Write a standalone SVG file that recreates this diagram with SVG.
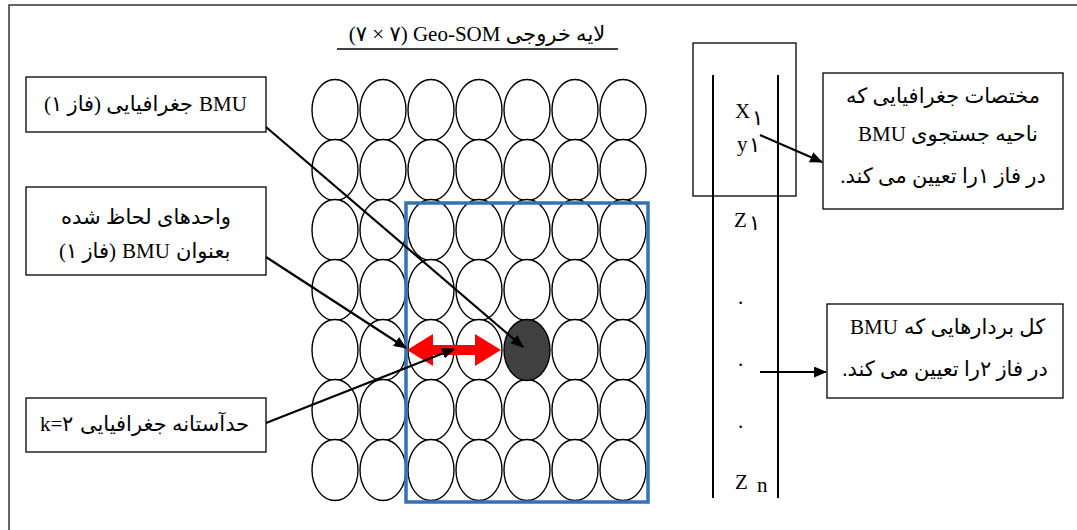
<svg xmlns="http://www.w3.org/2000/svg" width="1077" height="530" viewBox="0 0 1077 530">
<defs>
<style>
.t { font-family: "Liberation Serif", "DejaVu Sans", serif; font-size: 21px; fill: #000; }
.lat { font-family: "Liberation Serif", serif; font-size: 21px; fill: #000; }
.box { fill: #fff; stroke: #000; stroke-width: 1.3; }
.cell { fill: #fff; stroke: #000; stroke-width: 1.4; }
.conn { stroke: #000; stroke-width: 2.2; fill: none; }
.vline { stroke: #000; stroke-width: 2; }
</style>
<marker id="ah" viewBox="0 0 12 10" refX="11" refY="5" markerWidth="13" markerHeight="11" orient="auto" markerUnits="userSpaceOnUse">
<path d="M0,0 L12,5 L0,10 z" fill="#000"/>
</marker>
</defs>
<rect width="1077" height="530" fill="#fff"/>
<path d="M9,530 V5 H1077" fill="none" stroke="#333" stroke-width="1.5"/>

<g id="title">
<text class="t" x="477" y="41" text-anchor="middle" font-size="23">(۷ × ۷) Geo-SOM لایه خروجی</text>
<line x1="337" y1="49" x2="618" y2="49" stroke="#000" stroke-width="1.3"/>
</g>

<g id="grid">
<ellipse class="cell" cx="335" cy="110" rx="23" ry="30.5"/><ellipse class="cell" cx="383" cy="110" rx="23" ry="30.5"/><ellipse class="cell" cx="431" cy="110" rx="23" ry="30.5"/><ellipse class="cell" cx="479" cy="110" rx="23" ry="30.5"/><ellipse class="cell" cx="527" cy="110" rx="23" ry="30.5"/><ellipse class="cell" cx="575" cy="110" rx="23" ry="30.5"/><ellipse class="cell" cx="623" cy="110" rx="23" ry="30.5"/>
<ellipse class="cell" cx="335" cy="170" rx="23" ry="30.5"/><ellipse class="cell" cx="383" cy="170" rx="23" ry="30.5"/><ellipse class="cell" cx="431" cy="170" rx="23" ry="30.5"/><ellipse class="cell" cx="479" cy="170" rx="23" ry="30.5"/><ellipse class="cell" cx="527" cy="170" rx="23" ry="30.5"/><ellipse class="cell" cx="575" cy="170" rx="23" ry="30.5"/><ellipse class="cell" cx="623" cy="170" rx="23" ry="30.5"/>
<ellipse class="cell" cx="335" cy="230" rx="23" ry="30.5"/><ellipse class="cell" cx="383" cy="230" rx="23" ry="30.5"/><ellipse class="cell" cx="431" cy="230" rx="23" ry="30.5"/><ellipse class="cell" cx="479" cy="230" rx="23" ry="30.5"/><ellipse class="cell" cx="527" cy="230" rx="23" ry="30.5"/><ellipse class="cell" cx="575" cy="230" rx="23" ry="30.5"/><ellipse class="cell" cx="623" cy="230" rx="23" ry="30.5"/>
<ellipse class="cell" cx="335" cy="290" rx="23" ry="30.5"/><ellipse class="cell" cx="383" cy="290" rx="23" ry="30.5"/><ellipse class="cell" cx="431" cy="290" rx="23" ry="30.5"/><ellipse class="cell" cx="479" cy="290" rx="23" ry="30.5"/><ellipse class="cell" cx="527" cy="290" rx="23" ry="30.5"/><ellipse class="cell" cx="575" cy="290" rx="23" ry="30.5"/><ellipse class="cell" cx="623" cy="290" rx="23" ry="30.5"/>
<ellipse class="cell" cx="335" cy="350" rx="23" ry="30.5"/><ellipse class="cell" cx="383" cy="350" rx="23" ry="30.5"/><ellipse class="cell" cx="431" cy="350" rx="23" ry="30.5"/><ellipse class="cell" cx="479" cy="350" rx="23" ry="30.5"/><ellipse class="cell" cx="575" cy="350" rx="23" ry="30.5"/><ellipse class="cell" cx="623" cy="350" rx="23" ry="30.5"/>
<ellipse class="cell" cx="335" cy="410" rx="23" ry="30.5"/><ellipse class="cell" cx="383" cy="410" rx="23" ry="30.5"/><ellipse class="cell" cx="431" cy="410" rx="23" ry="30.5"/><ellipse class="cell" cx="479" cy="410" rx="23" ry="30.5"/><ellipse class="cell" cx="527" cy="410" rx="23" ry="30.5"/><ellipse class="cell" cx="575" cy="410" rx="23" ry="30.5"/><ellipse class="cell" cx="623" cy="410" rx="23" ry="30.5"/>
<ellipse class="cell" cx="335" cy="470" rx="23" ry="30.5"/><ellipse class="cell" cx="383" cy="470" rx="23" ry="30.5"/><ellipse class="cell" cx="431" cy="470" rx="23" ry="30.5"/><ellipse class="cell" cx="479" cy="470" rx="23" ry="30.5"/><ellipse class="cell" cx="527" cy="470" rx="23" ry="30.5"/><ellipse class="cell" cx="575" cy="470" rx="23" ry="30.5"/><ellipse class="cell" cx="623" cy="470" rx="23" ry="30.5"/>
</g>
<g id="bmu-cell">
<ellipse cx="527" cy="350" rx="23" ry="30.5" fill="#404040" stroke="#000" stroke-width="1.4"/>
</g>
<g id="search-region">
<rect x="406" y="203" width="242" height="299" fill="none" stroke="#3372B5" stroke-width="3.5"/>
</g>
<g id="red-arrow">
<polygon points="407,350 433,334 433,345 475,345 475,334 501,350 475,366 475,355 433,355 433,366" fill="#FF0000"/>
</g>

<g id="box-bmu">
<rect class="box" x="26" y="77" width="240" height="55"/>
<text class="t" x="193" y="111" text-anchor="end">(فاز ۱) جغرافیایی</text>
<text class="lat" x="199" y="111">BMU</text>
</g>
<g id="box-units">
<rect class="box" x="26" y="187" width="240" height="88"/>
<text class="t" x="146" y="224" text-anchor="middle" direction="rtl">واحدهای لحاظ شده</text>
<text class="t" x="116" y="258" text-anchor="end">(فاز ۱)</text>
<text class="lat" x="122" y="258">BMU</text>
<text class="t" x="176" y="258">بعنوان</text>
</g>
<g id="box-k">
<rect class="box" x="26" y="398" width="240" height="54"/>
<text class="lat" x="40" y="431">k=</text>
<text class="t" x="62" y="431">۲</text>
<text class="t" x="80" y="431">حدآستانه جغرافیایی</text>
</g>

<g id="vector">
<rect x="693" y="43" width="103" height="153" fill="none" stroke="#000" stroke-width="1.3"/>
<line class="vline" x1="713" y1="75" x2="713" y2="498"/>
<line class="vline" x1="778" y1="75" x2="778" y2="498"/>
<text class="t" x="735" y="118" font-size="26">X</text>
<text class="t" x="752" y="125" font-size="12">۱</text>
<text class="t" x="737" y="151" font-size="30">y</text>
<text class="t" x="749" y="152" font-size="12">۱</text>
<text class="t" x="734" y="227" font-size="25">Z</text>
<text class="t" x="749" y="230" font-size="12">۱</text>
<text class="t" x="738" y="304" font-size="25">.</text>
<text class="t" x="738" y="366" font-size="25">.</text>
<text class="t" x="738" y="428" font-size="25">.</text>
<text class="t" x="735" y="489" font-size="25">Z</text>
<text class="t" x="757" y="492" font-size="21">n</text>
</g>

<g id="box-coords">
<rect class="box" x="823" y="73" width="240" height="136"/>
<text class="t" x="943" y="103" text-anchor="middle" direction="rtl">مختصات جغرافیایی که</text>
<text class="lat" x="858" y="141">BMU</text>
<text class="t" x="911" y="141">ناحیه جستجوی</text>
<text class="t" x="943" y="183" text-anchor="middle" direction="rtl">در فاز ۱را تعیین می کند.</text>
</g>
<g id="box-vectors">
<rect class="box" x="827" y="304" width="236" height="94"/>
<text class="lat" x="850" y="334">BMU</text>
<text class="t" x="904" y="334">کل بردارهایی که</text>
<text class="t" x="945" y="376" text-anchor="middle" direction="rtl">در فاز ۲را تعیین می کند.</text>
</g>

<g id="connectors">
<line class="conn" x1="266" y1="127" x2="523" y2="347" marker-end="url(#ah)"/>
<line class="conn" x1="266" y1="257" x2="406" y2="348" marker-end="url(#ah)"/>
<line class="conn" x1="266" y1="423" x2="454" y2="349" marker-end="url(#ah)"/>
<line class="conn" x1="760" y1="135" x2="822" y2="162" marker-end="url(#ah)"/>
<line class="conn" x1="760" y1="372" x2="826" y2="372" marker-end="url(#ah)"/>
</g>
</svg>
